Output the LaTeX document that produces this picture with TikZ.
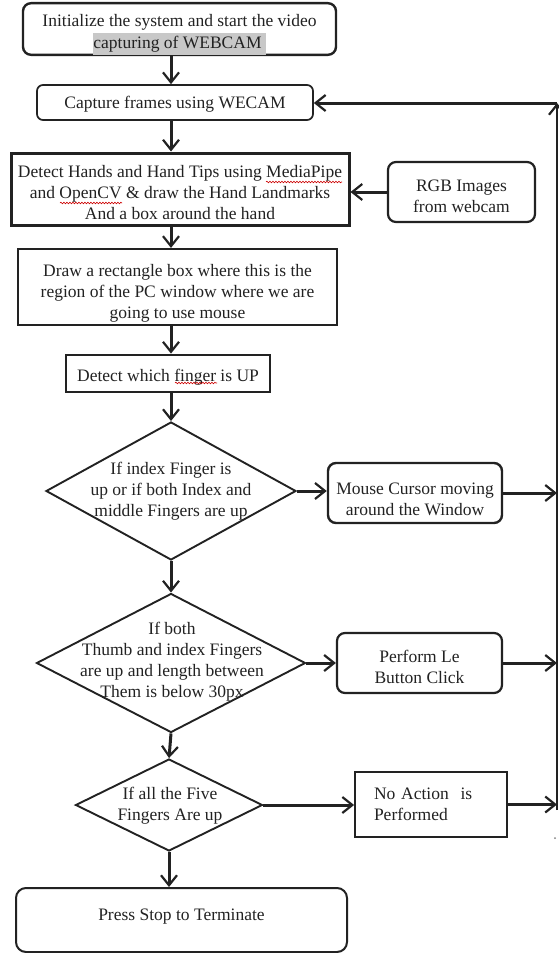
\documentclass[tikz,border=0pt]{standalone}
\usepackage{fontspec}
\setmainfont{Liberation Serif}
\usetikzlibrary{shapes.geometric,arrows.meta,decorations.pathmorphing}
\definecolor{ink}{RGB}{34,34,34}
\definecolor{hl}{RGB}{200,200,200}
% a zero-width strut taller than the first line pushes the text block down
\newcommand\txtdown[1]{\rule{0pt}{#1}}
\begin{document}
\begin{tikzpicture}[x=1pt,y=-1pt,
  every node/.style={font=\fontsize{17.5}{21}\selectfont, text=ink, inner sep=0pt, align=center},
  rbox/.style={draw=ink, rounded corners=8pt, line width=2.2pt},
  sbox/.style={draw=ink, line width=2.8pt},
  dia/.style={draw=ink, diamond, line width=1.9pt},
  arr/.style={draw=ink, line width=3pt, -{Straight Barb[length=10pt,width=16pt,line width=2.2pt]}},
  squig/.style={draw=red!80!black, line width=0.6pt, decorate, decoration={snake, segment length=3pt, amplitude=0.8pt}}
]
\useasboundingbox (0,0) rectangle (559,953);

% boxes
\node[rbox, line width=2.4pt, minimum width=313, minimum height=50, font=\fontsize{17.5}{22}\selectfont] (init) at (179.5,29)
  {\txtdown{23pt}Initialize the system and start the video\\{\setlength\fboxsep{0pt}\colorbox{hl}{\strut capturing of WEBCAM\kern4pt}}};
\node[rbox, rounded corners=6pt, line width=1.7pt, minimum width=276, minimum height=35] (cap) at (175,102.5)
  {\txtdown{16pt}Capture frames using WECAM};
\node[sbox, line width=3pt, minimum width=338, minimum height=72] (det) at (180,189)
  {\txtdown{20pt}Detect Hands and Hand Tips using MediaPipe\\and OpenCV \& draw the Hand Landmarks\\And a box around the hand};
\node[rbox, minimum width=147, minimum height=60] (rgb) at (461.5,192) {\txtdown{20pt}RGB Images\\from webcam};
\node[sbox, line width=2.2pt, minimum width=319, minimum height=76] (rect) at (177.5,287)
  {\txtdown{24pt}Draw a rectangle box where this is the\\region of the PC window where we are\\going to use mouse};
\node[sbox, minimum width=204, minimum height=37] (finger) at (168,373.5) {\txtdown{20pt}Detect which finger is UP};

% decisions
\node[dia, minimum width=250, minimum height=138] (d1) at (171,491) {};
\node (d1t) at (171,491) {If index Finger is\\up or if both Index and\\middle Fingers are up};
\node[dia, minimum width=269, minimum height=139] (d2) at (171,663) {};
\node (d2t) at (172,662) {If both\\Thumb and index Fingers\\are up and length between\\Them is below 30px};
\node[dia, minimum width=187, minimum height=92] (d3) at (169,805) {};
\node (d3t) at (170,806) {If all the Five\\Fingers Are up};

% actions
\node[rbox, line width=2.4pt, minimum width=174, minimum height=60] (mouse) at (415,493) {\txtdown{24pt}Mouse Cursor moving\\around the Window};
\node[rbox, minimum width=165, minimum height=60] (click) at (419.5,663) {\txtdown{21pt}Perform Le\\Button Click};
\node[draw=ink, line width=1.8pt, minimum width=152, minimum height=65, text width=114pt, inner xsep=19pt, align=left] (noact) at (431,804.5)
  {No Action~~is\\Performed};
\node[rbox, rounded corners=10pt, line width=2pt, minimum width=331, minimum height=64, text height=12pt, text depth=12pt] (stop) at (181.5,920)
  {Press Stop to Terminate};

% main column
\coordinate (col) at (171,0);
\draw[arr] (init.south -| col) -- (cap.north -| col);
\draw[arr] (cap.south -| col) -- (det.north -| col);
\draw[arr] (rgb.west) -- (rgb.west -| det.east);
\draw[arr] (det.south -| col) -- (rect.north -| col);
\draw[arr] (rect.south -| col) -- (finger.north -| col);
\draw[arr] (finger.south -| col) -- (d1.north);
\draw[arr] (d1.east) -- (d1.east -| mouse.west);
\draw[arr] (d1.south) -- (d2.north);
\draw[arr] (d2.east) -- (d2.east -| click.west);
\draw[arr] (d2.south) -- (d3.north);
\draw[arr] (d3.east) -- (d3.east -| noact.west);
\draw[arr] (d3.south) -- (d3.south |- stop.north);

% feedback loop
\coordinate (rb) at (557,810);
\coordinate (rt) at (557,103);
\draw[arr] (mouse.east) -- (mouse.east -| rt);
\draw[arr] (click.east) -- (click.east -| rt);
\draw[arr] (noact.east) -- (noact.east -| rt);
\draw[draw=ink, line width=1.9pt, -{Straight Barb[length=10pt,width=16pt,line width=2.2pt]}] (rb) -- (rt);
\draw[arr] (rt) -- (rt -| cap.east);
\fill[gray] (555,838) circle (1);

% spell-check marks
\draw[squig] (266,182) -- (342,182);
\draw[squig] (60,203) -- (122,203);
\draw[squig] (175,383) -- (217,383);
\end{tikzpicture}
\end{document}
